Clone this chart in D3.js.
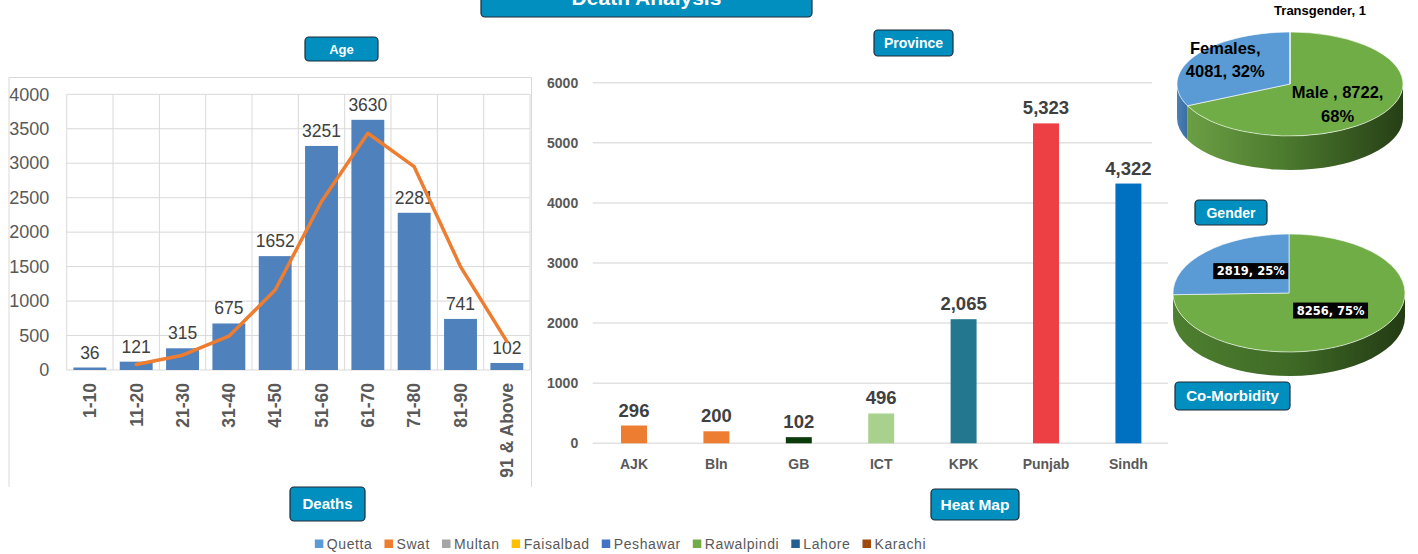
<!DOCTYPE html>
<html><head><meta charset="utf-8">
<script src="https://cdn.jsdelivr.net/npm/d3@7"></script>
<style>
html,body{margin:0;padding:0;background:#fff;}
svg{display:block;font-family:"Liberation Sans",Arial,sans-serif;}
</style></head><body>
<svg id="c" width="1418" height="554"></svg>
<script>
// ---------------- DATA ----------------
const ageCategories = ["1-10","11-20","21-30","31-40","41-50","51-60","61-70","71-80","81-90","91 & Above"];
const ageDeaths = [36,121,315,675,1652,3251,3630,2281,741,102];
const ageTrend = [null,80,215,490,1160,2445,3435,2950,1500,415];
const ageTicks = [0,500,1000,1500,2000,2500,3000,3500,4000];

const provinces = ["AJK","Bln","GB","ICT","KPK","Punjab","Sindh"];
const provinceDeaths = [296,200,102,496,2065,5323,4322];
const provinceTicks = [0,1000,2000,3000,4000,5000,6000];

const genderNames = ["Male ","Females","Transgender"];
const genderValues = [8722,4081,1];

const comorbidNames = ["Yes","No"];
const comorbidValues = [8256,2819];

const legendLabels = ["Quetta","Swat","Multan","Faisalbad","Peshawar","Rawalpindi","Lahore","Karachi"];

// ---------------- STYLES ----------------
const provinceColors = ["#ED7D31","#ED7D31","#0B3A0B","#A9D18E","#23788F","#EC4045","#0070C0"];
const legendColors = ["#5B9BD5","#ED7D31","#A5A5A5","#FFC000","#4472C4","#70AD47","#255E91","#9E480E"];

const svg = d3.select("#c");
const defs = svg.append("defs");

function button(x,y,w,h,label,fs,ty){
  const g = svg.append("g");
  g.append("rect").attr("x",x).attr("y",y).attr("width",w).attr("height",h)
    .attr("rx",4).attr("fill","#008FBF").attr("stroke","#1d2b36").attr("stroke-width",1.2);
  g.append("text").attr("x",x+w/2).attr("y",ty!==undefined?ty:y+h/2).attr("dy",ty!==undefined?0:"0.36em")
    .attr("text-anchor","middle").attr("fill","#fff").attr("font-weight","bold")
    .attr("font-size",fs).text(label);
}

// ---------------- AGE CHART ----------------
svg.append("path").attr("d","M9,487V77.5H531.5V487").attr("fill","none").attr("stroke","#d9d9d9").attr("stroke-width",1);

const ageX = d3.scaleBand().domain(ageCategories).range([66.7,530]).paddingInner(0.29).paddingOuter(0.145);
const ageY = d3.scaleLinear().domain([0,4000]).range([370,94.3]);
const ageStep = ageX.step();

const ag = svg.append("g");
ag.selectAll("line.h").data(ageTicks).join("line")
  .attr("x1",66.7).attr("x2",530).attr("y1",d=>ageY(d)).attr("y2",d=>ageY(d))
  .attr("stroke","#d9d9d9").attr("stroke-width",1);
ag.selectAll("line.v").data(d3.range(ageCategories.length+1)).join("line")
  .attr("x1",i=>66.7+i*ageStep).attr("x2",i=>66.7+i*ageStep)
  .attr("y1",ageY(4000)).attr("y2",ageY(0))
  .attr("stroke","#d9d9d9").attr("stroke-width",1);

const ayAxis = svg.append("g").attr("transform","translate(66.7,0)")
  .call(d3.axisLeft(ageY).tickValues(ageTicks).tickFormat(d3.format("d")).tickSize(0).tickPadding(17.5));
ayAxis.select(".domain").remove();
ayAxis.selectAll("text").attr("font-size",18).attr("fill","#595959").attr("font-family","Liberation Sans");

ag.selectAll("rect.bar").data(ageDeaths).join("rect")
  .attr("x",(d,i)=>ageX(ageCategories[i])).attr("y",d=>ageY(d))
  .attr("width",ageX.bandwidth()).attr("height",d=>ageY(0)-ageY(d))
  .attr("fill","#4F81BD");
ag.selectAll("text.val").data(ageDeaths).join("text")
  .attr("x",(d,i)=>ageX(ageCategories[i])+ageX.bandwidth()/2).attr("y",d=>ageY(d)-9)
  .attr("text-anchor","middle").attr("font-size",17.5).attr("fill","#404040").text(d=>d);

const axAxis = svg.append("g").attr("transform","translate(0,370)")
  .call(d3.axisBottom(ageX).tickSize(0));
axAxis.select(".domain").remove();
axAxis.selectAll("text").attr("transform","rotate(-90)").attr("text-anchor","end")
  .attr("x",-13).attr("y",0).attr("dy","0.36em")
  .attr("font-size",17.5).attr("font-weight","bold").attr("fill","#595959").attr("font-family","Liberation Sans");

const trendLine = d3.line().defined(d=>d!=null)
  .x((d,i)=>ageX(ageCategories[i])+ageX.bandwidth()/2).y(d=>ageY(d));
ag.append("path").attr("d",trendLine(ageTrend)).attr("fill","none")
  .attr("stroke","#ED7D31").attr("stroke-width",3.5).attr("stroke-linejoin","round").attr("stroke-linecap","round");

// ---------------- PROVINCE CHART ----------------
const pX = d3.scaleBand().domain(provinces).range([592.8,1169.6]).paddingInner(0.685).paddingOuter(0.3425);
const pY = d3.scaleLinear().domain([0,6000]).range([443.3,82.7]);
const pg = svg.append("g");
pg.selectAll("line").data(provinceTicks).join("line")
  .attr("x1",592.7).attr("x2",1168).attr("y1",d=>pY(d)).attr("y2",d=>pY(d))
  .attr("stroke","#e2e2e2").attr("stroke-width",1.5);
const pyAxis = svg.append("g").attr("transform","translate(592.7,0)")
  .call(d3.axisLeft(pY).tickValues(provinceTicks).tickFormat(d3.format("d")).tickSize(0).tickPadding(14.5));
pyAxis.select(".domain").remove();
pyAxis.selectAll("text").attr("font-size",14).attr("font-weight","bold").attr("fill","#595959").attr("font-family","Liberation Sans");

pg.selectAll("rect").data(provinceDeaths).join("rect")
  .attr("x",(d,i)=>pX(provinces[i])).attr("y",d=>pY(d))
  .attr("width",pX.bandwidth()).attr("height",d=>pY(0)-pY(d))
  .attr("fill",(d,i)=>provinceColors[i]);
pg.selectAll("text.val").data(provinceDeaths).join("text")
  .attr("x",(d,i)=>pX(provinces[i])+pX.bandwidth()/2).attr("y",d=>pY(d)-9)
  .attr("text-anchor","middle").attr("font-size",18.5).attr("font-weight","bold")
  .attr("fill","#404040").text(d=>d3.format(",")(d));
const pxAxis = svg.append("g").attr("transform","translate(0,443.3)")
  .call(d3.axisBottom(pX).tickSize(0).tickPadding(15));
pxAxis.select(".domain").remove();
pxAxis.selectAll("text").attr("font-size",14).attr("font-weight","bold").attr("fill","#595959")
  .attr("font-family","Liberation Sans").attr("dy","0.36em").attr("y",20.7);

// white backing of the top-right pie picture
svg.append("rect").attr("x",1152).attr("y",0).attr("width",266).attr("height",186).attr("fill","#fff");

// ---------------- 3D PIES ----------------
function grad(id,stops){
  const lg = defs.append("linearGradient").attr("id",id).attr("x1","0%").attr("x2","100%").attr("y1","0%").attr("y2","0%");
  stops.forEach(s=>lg.append("stop").attr("offset",s[0]).attr("stop-color",s[1]));
}
grad("gSide1",[[0,"#6b9f44"],[0.45,"#4c7a2e"],[1,"#263f16"]]);
grad("bSide1",[[0,"#4a80b8"],[1,"#3c6e9f"]]);
grad("gSide2",[[0,"#4e8030"],[0.5,"#3f6a26"],[1,"#233b14"]]);

function pie3d(values,colors,sides,cx,cy,rx,ry,depth){
  const arcs = d3.pie().sort(null).value(d=>d)(values);
  const P = (a,dy=0)=>[cx+rx*Math.sin(a), cy-ry*Math.cos(a)+dy];
  const g = svg.append("g");
  arcs.forEach((a,i)=>{
    const s = Math.max(a.startAngle,Math.PI/2), e = Math.min(a.endAngle,3*Math.PI/2);
    if (e<=s) return;
    const lg = (e-s)>Math.PI?1:0;
    g.append("path").attr("d",`M${P(s)}A${rx},${ry} 0 ${lg} 1 ${P(e)}L${P(e,depth)}A${rx},${ry} 0 ${lg} 0 ${P(s,depth)}Z`)
      .attr("fill",sides[i]);
  });
  arcs.forEach((a,i)=>{
    if (a.endAngle-a.startAngle<1e-4) return;
    const lg = (a.endAngle-a.startAngle)>Math.PI?1:0;
    g.append("path").attr("d",`M${cx},${cy}L${P(a.startAngle)}A${rx},${ry} 0 ${lg} 1 ${P(a.endAngle)}Z`)
      .attr("fill",colors[i]).attr("stroke","#ffffff").attr("stroke-width",0.6);
  });
  const pos = (i,f)=>P((arcs[i].startAngle+arcs[i].endAngle)/2).map((v,k)=>k===0?cx+(v-cx)*f:cy+(v-cy)*f);
  return {arcs,pos,g};
}

// Gender pie
const gTotal = d3.sum(genderValues);
const gPct = genderValues.map(v=>Math.round(v/gTotal*100));
const gp = pie3d(genderValues,["#70AD47","#5B9BD5","#5B9BD5"],["url(#gSide1)","url(#bSide1)","url(#bSide1)"],1290,84,113,52,34);
const gLabelLines = [
  [`${genderNames[0]}, ${genderValues[0]},`, `${gPct[0]}%`],
  [`${genderNames[1]},`, `${genderValues[1]}, ${gPct[1]}%`]
];
[[0,0.5,0],[1,0.68,-11]].forEach(([i,f,off])=>{
  const [x,y] = gp.pos(i,f);
  const t = svg.append("text").attr("text-anchor","middle").attr("font-weight","bold")
    .attr("font-size",16.5).attr("fill","#000");
  gLabelLines[i].forEach((ln,k)=>t.append("tspan").attr("x",x).attr("y",y+off+k*23.5).text(ln));
});
svg.append("text").attr("x",1320).attr("y",15).attr("text-anchor","middle").attr("font-weight","bold")
  .attr("font-size",13).attr("fill","#000").text(`${genderNames[2]}, ${genderValues[2]}`);

// Co-morbidity pie
const cTotal = d3.sum(comorbidValues);
const cPct = comorbidValues.map(v=>Math.round(v/cTotal*100));
const cp = pie3d(comorbidValues,["#70AD47","#5B9BD5"],["url(#gSide2)","#4a80b8"],1289,293,116,59,24);
[0,1].forEach(i=>{
  const [x,y0] = cp.pos(i,i===0?0.5:0.46);
  const y = y0 - 3;
  const t = svg.append("text").attr("x",x).attr("y",y).attr("dy","0.36em").attr("text-anchor","middle")
    .attr("font-family","DejaVu Sans").attr("font-weight","bold").attr("font-size",11.5).attr("fill","#fff")
    .text(`${comorbidValues[i]}, ${cPct[i]}%`);
  const w = t.node().getComputedTextLength();
  svg.insert("rect",()=>t.node()).attr("x",x-w/2-3.5).attr("y",y-8).attr("width",w+7).attr("height",16).attr("fill","#000");
});

// ---------------- BUTTONS ----------------
button(481,-16,331,33,"Death Analysis",21,5);
button(305,37,73,24,"Age",13);
button(874,30,79,26,"Province",14);
button(1195,200,72,25,"Gender",14);
button(1175,382,115,28,"Co-Morbidity",15);
button(290,487,75,34,"Deaths",15);
button(931,489,88,31,"Heat Map",15.5);

// ---------------- LEGEND ----------------
const legG = svg.append("g");
let lx = 0;
legendLabels.forEach((lab,i)=>{
  const it = legG.append("g").attr("transform",`translate(${lx},0)`);
  it.append("rect").attr("x",0).attr("y",-4).attr("width",8.5).attr("height",8.5).attr("fill",legendColors[i]);
  const t = it.append("text").attr("x",12).attr("y",0).attr("dy","0.38em").attr("font-size",14)
    .attr("letter-spacing",0.6).attr("fill","#595959").text(lab);
  lx += 12 + t.node().getComputedTextLength() + 12;
});
legG.attr("transform",`translate(${620.5-(lx-12)/2},543.5)`);
</script>
</body></html>
